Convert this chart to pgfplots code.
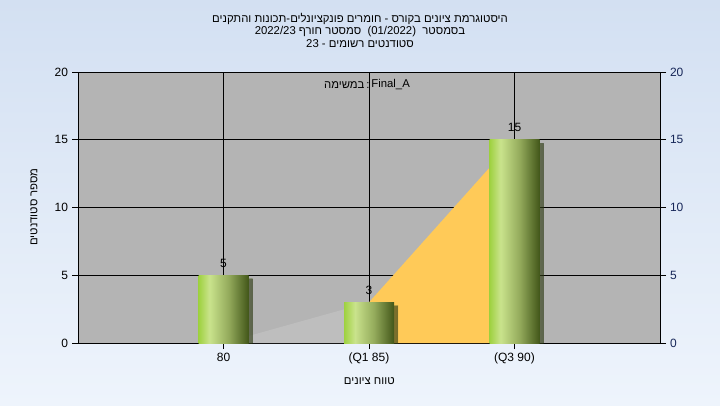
\documentclass[border=0pt]{standalone}
\usepackage{fontspec}
\setmainfont{Liberation Sans}
\newfontfamily\heb[Script=Hebrew]{Liberation Sans}
\TeXXeTstate=1
\usepackage{pgfplots}
\pgfplotsset{compat=1.18}
\definecolor{bgtop}{RGB}{211,224,242}
\definecolor{bgbot}{RGB}{238,244,252}
\definecolor{plotbg}{RGB}{180,180,180}
\definecolor{areagray}{RGB}{190,190,190}
\definecolor{areayel}{RGB}{255,202,88}
\definecolor{rightlab}{RGB}{22,38,88}
\pgfdeclarehorizontalshading{barshade}{100bp}{rgb(0bp)=(0.62,0.82,0.25); rgb(25bp)=(0.62,0.82,0.25); rgb(36bp)=(0.79,0.89,0.55); rgb(55bp)=(0.58,0.67,0.36); rgb(75bp)=(0.26,0.34,0.10); rgb(100bp)=(0.26,0.34,0.10)}
\newcommand\fs{\fontsize{8.5}{9.5}\selectfont}
\newcommand\ft{\fontsize{9}{10}\selectfont}
\pgfplotsset{greenbar/.style={ybar, bar width=37.5pt, draw=none, shading=barshade,
  preaction={fill=black, opacity=0.4, transform canvas={xshift=3pt, yshift=-2.5pt}}}}
\begin{document}
\fs
\begin{tikzpicture}
\shade[top color=bgtop,bottom color=bgbot] (0,0) rectangle (540pt,303.75pt);
\node[align=center, font=\fs\heb, inner sep=0pt] at (270pt,281pt) {\beginR היסטוגרמת ציונים בקורס - חומרים פונקציונלים-תכונות והתקנים\endR\\ \beginR בסמסטר \ \beginL(01/2022)\endL{}\ \ סמסטר חורף \beginL2022/23\endL\endR\\ \beginR סטודנטים רשומים - \beginL23\endL\endR};
\node[rotate=90, font=\fs\heb] at (25.5pt,148.5pt) {\beginR מספר סטודנטים\endR};
\node[font=\fs\heb] at (277pt,18pt) {\beginR טווח ציונים\endR};
\begin{axis}[
 at={(58.5pt,46.5pt)}, anchor=south west, scale only axis,
 width=436.5pt, height=203.25pt,
 xmin=-1, xmax=3, ymin=0, ymax=20,
 xtick={0,1,2}, xticklabels={80,(Q1 85),(Q3 90)},
 ytick={0,5,10,15,20},
 axis background/.style={fill=plotbg},
 grid=major, major grid style={black, line width=0.75pt},
 axis line style={black, line width=0.75pt},
 tick style={black, line width=0.75pt},
 tick align=outside, major tick length=4.5pt,
 xtick pos=bottom, ytick pos=left,
 /pgf/number format/assume math mode=true,
 ticklabel style={font=\ft, black},
]
\addplot[fill=areagray, draw=none] coordinates {(0,0) (1,3)} \closedcycle;
\addplot[fill=areayel, draw=none] coordinates {(1,3) (2,15)} \closedcycle;
\addplot[greenbar] coordinates {(0,5)};
\addplot[greenbar] coordinates {(1,3)};
\addplot[greenbar] coordinates {(2,15)};
\addplot[draw=none, mark=none, nodes near coords,
  every node near coord/.append style={font=\ft, black, anchor=center, yshift=9pt}]
  coordinates {(0,5) (1,3) (2,15)};
\node[font=\fs, black, anchor=east, inner sep=0.5pt] at (axis cs:1.01,19.05) {{\heb\beginR במשימה\endR}\,:};
\node[font=\fs, black, anchor=west, inner sep=0.5pt] at (axis cs:1.01,19.05) {Final\_A};
\end{axis}
\begin{axis}[
 at={(58.5pt,46.5pt)}, anchor=south west, scale only axis,
 width=436.5pt, height=203.25pt,
 xmin=-1, xmax=3, ymin=0, ymax=20,
 axis x line=none, axis y line*=right,
 ytick={0,5,10,15,20},
 axis line style={black, line width=0.75pt},
 tick style={black, line width=0.75pt},
 tick align=outside, major tick length=4.5pt,
 /pgf/number format/assume math mode=true,
 yticklabel style={font=\ft, color=rightlab},
]
\addplot[draw=none] coordinates {(0,0)};
\end{axis}
\pgfresetboundingbox
\useasboundingbox (0,0) rectangle (540pt,303.75pt);
\end{tikzpicture}
\end{document}
